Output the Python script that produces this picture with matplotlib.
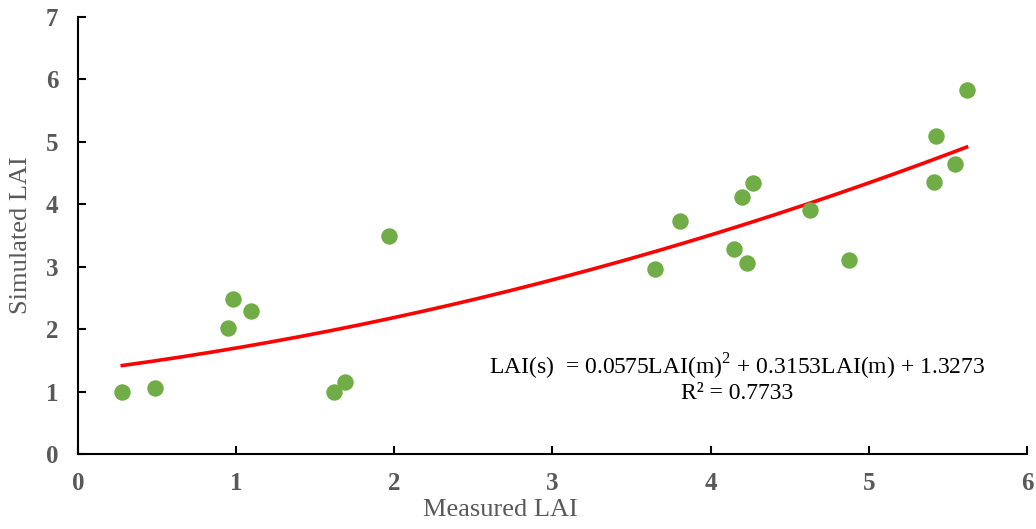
import numpy as np
import matplotlib
matplotlib.use("Agg")
from matplotlib import pyplot as plt

measured = [0.28, 0.485, 0.946, 0.978, 1.096, 1.616, 1.686, 1.966,
            3.647, 3.807, 4.147, 4.227, 4.197, 4.267, 4.629, 4.876,
            5.409, 5.426, 5.546, 5.618]
simulated = [1.00, 1.06, 2.02, 2.48, 2.29, 0.99, 1.16, 3.49,
             2.97, 3.73, 3.28, 3.06, 4.12, 4.34, 3.91, 3.11,
             4.36, 5.09, 4.64, 5.83]

# quadratic trend coefficients (a*x^2 + b*x + c)
coef = [0.0575, 0.3153, 1.3273]
r2 = 0.7733

plt.rcParams['font.family'] = 'Liberation Serif'
plt.rcParams['mathtext.fontset'] = 'custom'
plt.rcParams['mathtext.rm'] = 'Liberation Serif'

fig = plt.figure(figsize=(10.36, 5.29), dpi=100)
ax = fig.add_axes([0.0753, 0.1412, 0.916, 0.8273])

ax.scatter(measured, simulated, s=140, color='#70AD47', zorder=3, linewidths=0)

xs = np.linspace(min(measured), max(measured), 200)
ax.plot(xs, np.polyval(coef, xs), color='red', lw=2.6, zorder=2)

ax.set_xlim(0, 6)
ax.set_ylim(0, 7)
ax.set_xticks(range(0, 7))
ax.set_yticks(range(0, 8))

for s in ['top', 'right']:
    ax.spines[s].set_visible(False)
for s in ['left', 'bottom']:
    ax.spines[s].set_linewidth(1.5)
ax.tick_params(direction='in', length=6, width=1.5, labelsize=18,
               labelcolor='#595959')
ax.tick_params(axis='x', pad=13)
ax.tick_params(axis='y', pad=14)
for lab in ax.get_xticklabels() + ax.get_yticklabels():
    lab.set_fontweight('bold')

ax.set_xlabel('Measured LAI', fontsize=19, color='#595959')
ax.xaxis.set_label_coords(0.445, -0.103)
ax.set_ylabel('Simulated LAI', fontsize=19, color='#595959', labelpad=10)

ax.text(4.17, 1.40,
        r'LAI(s)  = %.4fLAI(m)$^{\mathrm{2}}$ + %.4fLAI(m) + %.4f' % tuple(coef),
        ha='center', va='center', fontsize=17)
ax.text(4.17, 0.98, 'R² = %.4f' % r2, ha='center', va='center', fontsize=17)

fig.savefig('out.png', dpi=100)
